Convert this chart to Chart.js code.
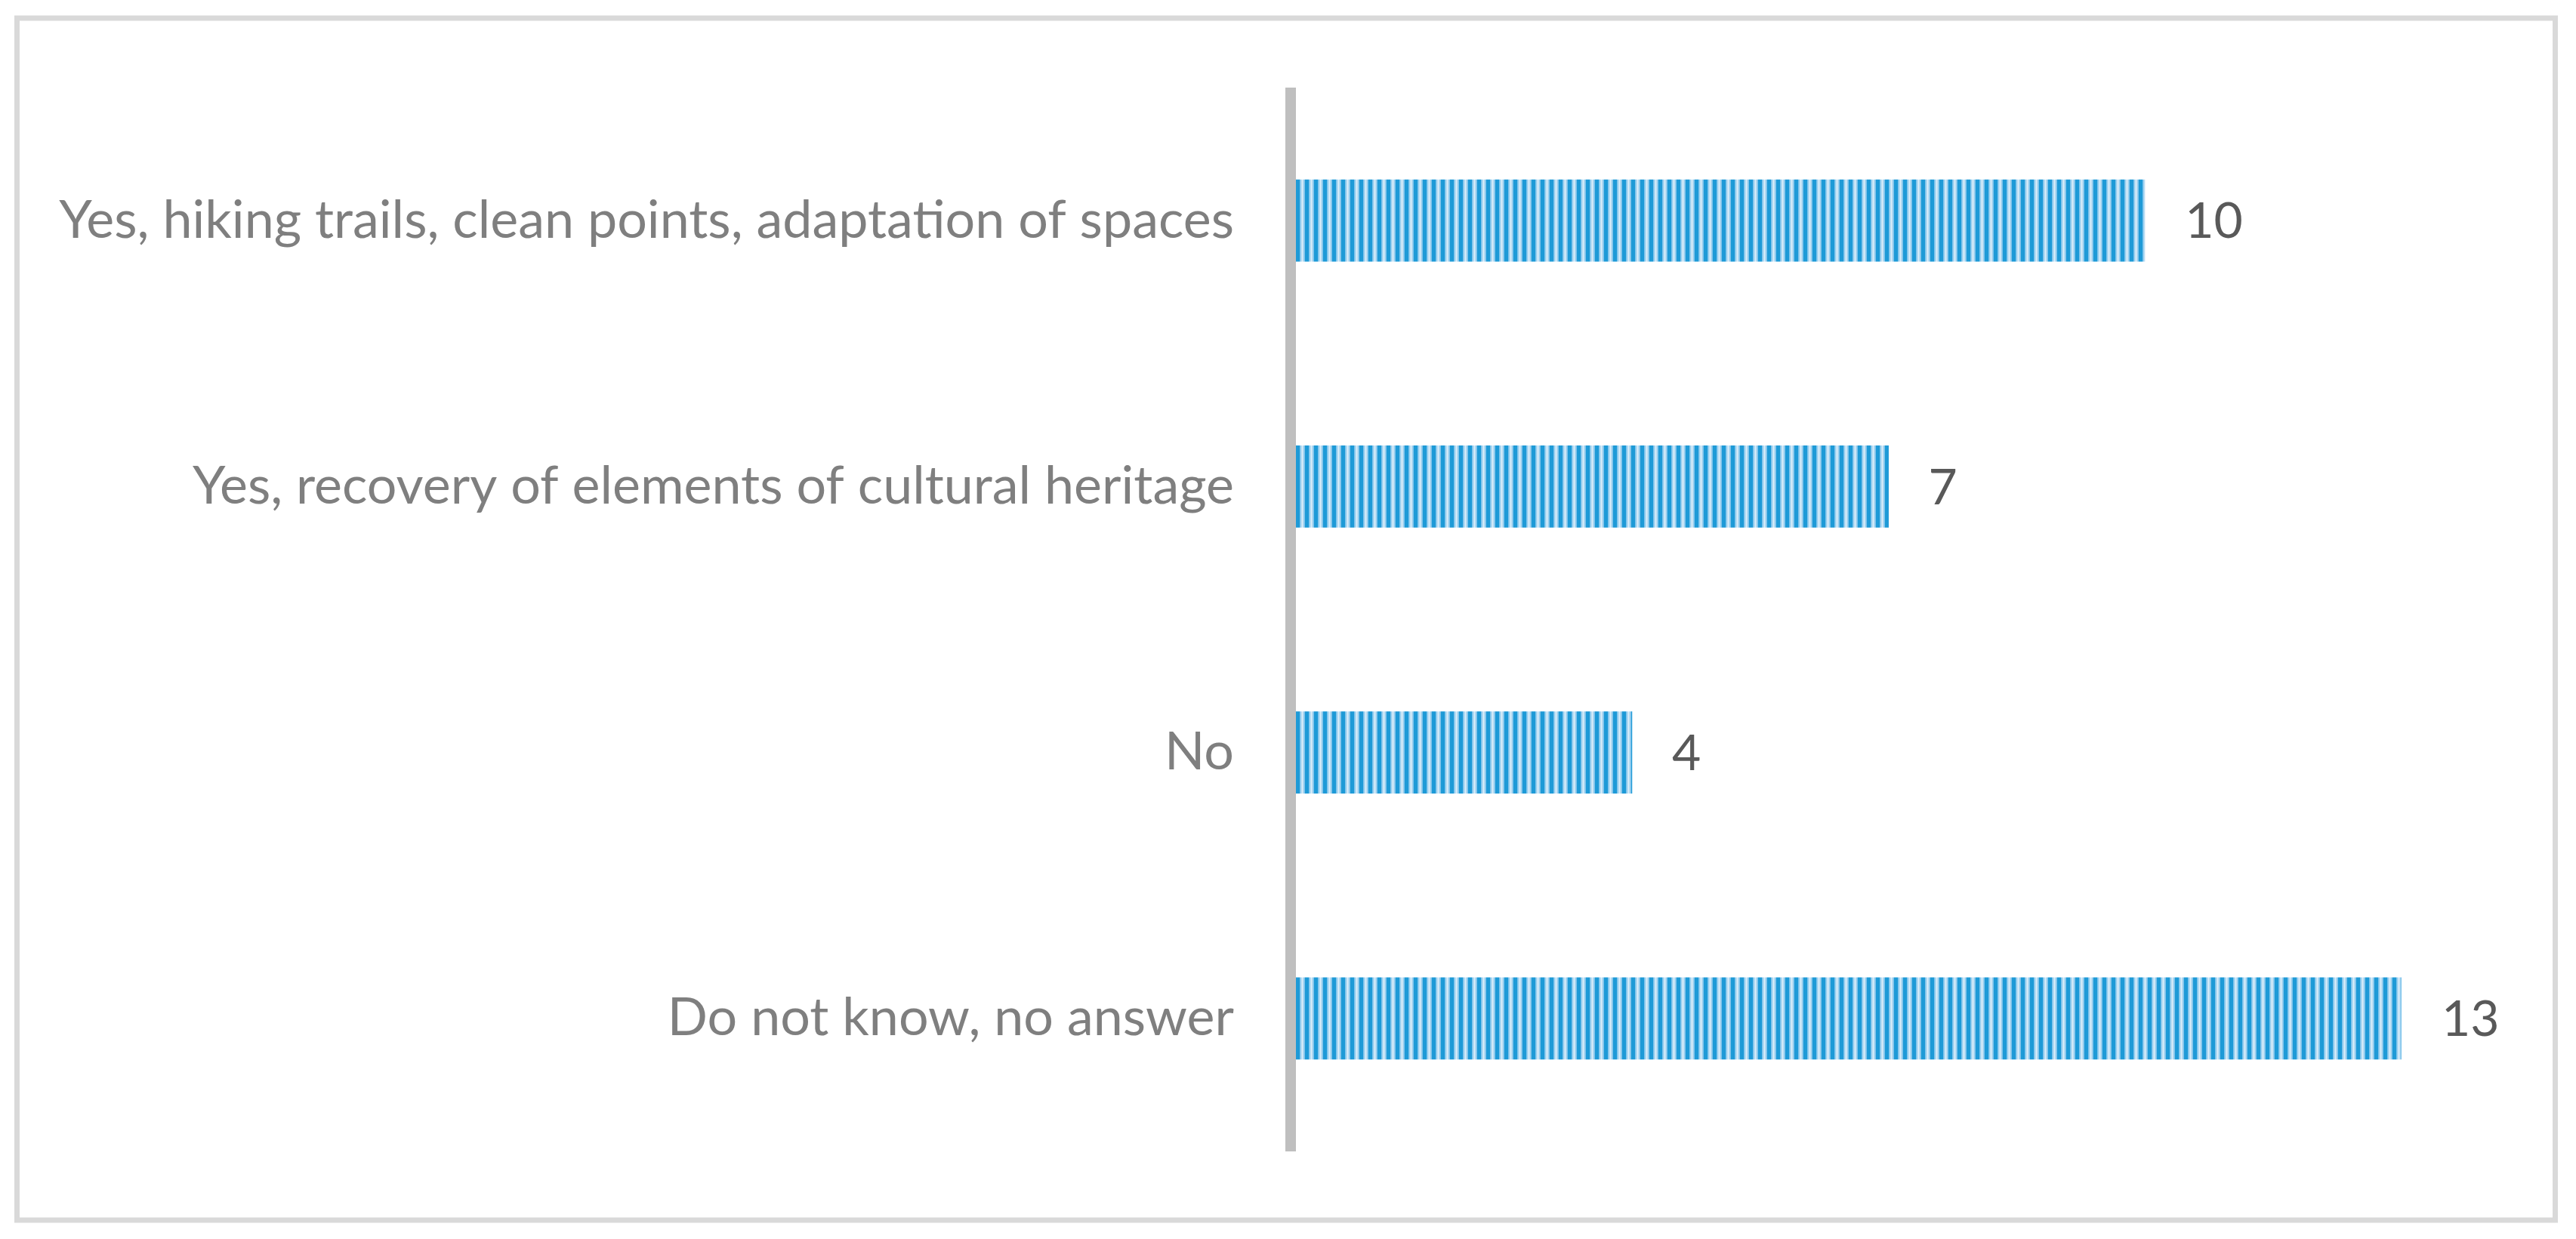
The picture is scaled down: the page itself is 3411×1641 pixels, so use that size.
<!DOCTYPE html>
<html>
<head>
<meta charset="utf-8">
<script src="https://cdn.jsdelivr.net/npm/chart.js@4.4.0/dist/chart.umd.min.js"></script>
<style>
  html, body { margin: 0; padding: 0; background: #fff; }
  #wrap { width: 3411px; height: 1641px; }
</style>
</head>
<body>
<div id="wrap"><canvas id="chart" width="3411" height="1641"></canvas></div>
<script>
// Données du graphique
const categories = [
    'Yes, hiking trails, clean points, adaptation of spaces',
    'Yes, recovery of elements of cultural heritage',
    'No',
    'Do not know, no answer'
];
const values = [10, 7, 4, 13];
const xMin = 0;
const xMax = 13;

// Motif rayé des barres
function makeStripes() {
    const c = document.createElement('canvas');
    c.width = 12;
    c.height = 4;
    const g = c.getContext('2d');
    const grad = g.createLinearGradient(5, 0, 12, 0);
    grad.addColorStop(0, '#6cbbe8');
    grad.addColorStop(0.5, '#dcedf9');
    grad.addColorStop(1, '#6cbbe8');
    g.fillStyle = grad;
    g.fillRect(5, 0, 7, 4);
    g.fillStyle = '#1e9ad7';
    g.fillRect(0, 0, 5, 4);
    return g.createPattern(c, 'repeat');
}

// Cadre et ligne d'axe
const framePlugin = {
    id: 'frame',
    afterDatasetsDraw(chart) {
        const ctx = chart.ctx;
        const area = chart.chartArea;
        ctx.save();
        ctx.fillStyle = '#bfbfbf';
        ctx.fillRect(area.left - 6, area.top, 14, area.bottom - area.top);
        ctx.restore();
    },
    afterDraw(chart) {
        const ctx = chart.ctx;
        ctx.save();
        ctx.strokeStyle = '#d9d9d9';
        ctx.lineWidth = 7;
        ctx.strokeRect(22.5, 24, 3361, 1592);
        ctx.restore();
    }
};

// Étiquettes de valeur
const valueLabels = {
    id: 'valueLabels',
    afterDatasetsDraw(chart) {
        const ctx = chart.ctx;
        const meta = chart.getDatasetMeta(0);
        ctx.save();
        ctx.font = '66px Lato';
        ctx.fillStyle = '#595959';
        ctx.textAlign = 'left';
        ctx.textBaseline = 'middle';
        meta.data.forEach((bar, i) => {
            ctx.fillText(String(chart.data.datasets[0].data[i]), bar.x + 53, bar.y + 2);
        });
        ctx.restore();
    }
};

const ctx = document.getElementById('chart').getContext('2d');
const chart = new Chart(ctx, {
    type: 'bar',
    data: {
        labels: categories,
        datasets: [{
            data: values,
            backgroundColor: makeStripes(),
            borderWidth: 0,
            barThickness: 108
        }]
    },
    options: {
        indexAxis: 'y',
        responsive: false,
        animation: false,
        layout: {
            padding: { left: 0, right: 231, top: 114, bottom: 116 }
        },
        plugins: {
            legend: { display: false },
            tooltip: { enabled: false }
        },
        scales: {
            x: {
                display: false,
                min: xMin,
                max: xMax
            },
            y: {
                grid: { display: false, drawTicks: false },
                border: { display: false },
                ticks: {
                    padding: 74,
                    color: '#7f7f7f',
                    font: { family: 'Lato', size: 70 }
                },
                afterFit(scale) {
                    scale.width = 1708;
                }
            }
        }
    },
    plugins: [framePlugin, valueLabels]
});
</script>
</body>
</html>
